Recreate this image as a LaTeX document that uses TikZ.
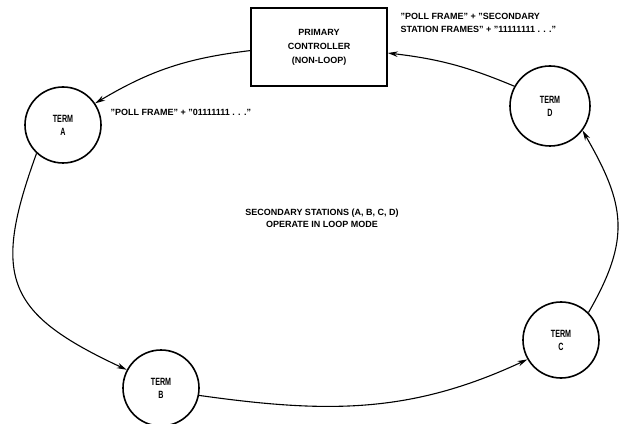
\documentclass[tikz,border=0pt]{standalone}
\usepackage{fontspec}
\setmainfont{Liberation Sans}
\newfontfamily\termfont{Liberation Sans}[FakeStretch=0.68]
\usepackage{tikz}
\usetikzlibrary{arrows.meta,positioning}

\begin{document}
\begin{tikzpicture}[x=1pt,y=1pt,
  term/.style={draw, circle, line width=1.6pt, minimum size=76pt, inner sep=0pt,
    align=center, font=\termfont\bfseries\fontsize{10.5}{13}\selectfont},
  link/.style={-{Stealth[length=10pt,width=5.5pt]}, line width=1.1pt},
  caption/.style={font=\bfseries\fontsize{9}{13}\selectfont}]
\useasboundingbox (0,0) rectangle (620,423);

% --- Controller and terminals ---
\node[draw, line width=1.6pt, minimum width=136pt, minimum height=78pt, align=center,
  font=\bfseries\fontsize{9}{14}\selectfont] (ctrl) at (319,376)
  {PRIMARY\\CONTROLLER\\(NON-LOOP)};
\node[term] (termA) at (63,298) {TERM\\A};
\node[term] (termB) at (161,35) {TERM\\B};
\node[term] (termC) at (561,83) {TERM\\C};
\node[term, minimum size=80pt] (termD) at (550,317) {TERM\\D};

% --- Loop connectors ---
\draw[link] (ctrl.183) to[bend right=12] (termA.34);
\draw[link] (termA.227) to[out=250, in=155, looseness=1.45] (termB.152);
\draw[link] (termB.-11) to[out=-8, in=205] (termC.210);
\draw[link] (termC.45) to[out=60, in=300, looseness=1.2] (termD.323);
\draw[link] (termD.151) to[bend right=8] (ctrl.-5);

% --- Labels ---
\node[caption, anchor=west, align=left] (pollSec) at (397,400)
  {"POLL FRAME" + "SECONDARY\\STATION FRAMES" + "11111111 . . ."};
\node[caption, anchor=west] (pollA) at (107,311) {"POLL FRAME" + "01111111 . . ."};
\node[caption, align=center, font=\bfseries\fontsize{9}{12}\selectfont] (loopNote) at (322,205)
  {SECONDARY STATIONS (A, B, C, D)\\OPERATE IN LOOP MODE};
\end{tikzpicture}
\end{document}
